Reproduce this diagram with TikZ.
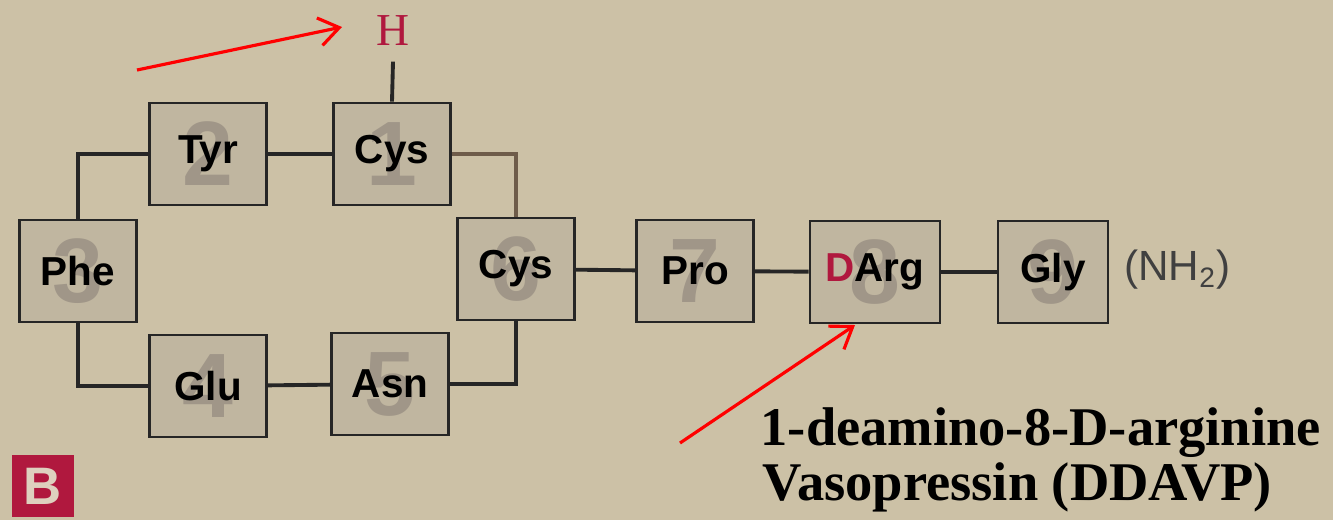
\documentclass[tikz,border=0pt]{standalone}
\usepackage{fontspec}
\setmainfont{Liberation Serif}
\setsansfont{Liberation Sans}
\usetikzlibrary{arrows.meta}
\definecolor{paper}{RGB}{204,193,166}
\definecolor{boxfill}{RGB}{192,182,160}
\definecolor{digitgray}{RGB}{160,150,136}
\definecolor{ssbrown}{RGB}{110,92,74}
\definecolor{crimson}{RGB}{176,24,62}
\definecolor{tagtext}{RGB}{222,208,190}

\begin{document}
\begin{tikzpicture}[x=0.01cm, y=-0.01cm,
    amino/.style={draw=black!85, line width=0.8pt, fill=boxfill,
      minimum width=1.17cm, minimum height=1.02cm,
      font=\sffamily\bfseries\fontsize{11.5}{13}\selectfont,
      path picture={\node[font=\sffamily\bfseries\fontsize{26}{26}\selectfont, text=digitgray]
        at (path picture bounding box.center) {#1};}},
    bond/.style={line width=1.1pt, draw=black!85},
    ssbond/.style={line width=1.1pt, draw=ssbrown},
    pointer/.style={red, line width=0.9pt, -{Straight Barb[length=2mm,width=2.8mm]}}]
  % paper
  \fill[paper] (0,0) rectangle (1333,520);
  \useasboundingbox (0,0) rectangle (1333,520);

  % amino acid boxes
  \node[amino=2] (tyr)  at (208,154) {Tyr};
  \node[amino=1] (cys1) at (392,154) {Cys};
  \node[amino=3] (phe)  at (78,271)  {Phe};
  \node[amino=6] (cys6) at (516,269) {Cys};
  \node[amino=4] (glu)  at (208,386) {Glu};
  \node[amino=5] (asn)  at (390,384) {Asn};
  \node[amino=7] (pro)  at (695,271) {Pro};
  \node[amino=8, minimum width=1.3cm] (darg) at (875,272) {\textcolor{crimson}{D}Arg};
  \node[amino=9, minimum width=1.1cm] (gly) at (1053,272) {Gly};
  \node[anchor=west, font=\sffamily\fontsize{12}{14}\selectfont, text=black!75] (nh2) at (1112,270) {(NH\textsubscript{2})};

  % deamino end
  \node[font=\fontsize{13}{15}\selectfont, text=crimson, inner sep=0.15cm] (h) at (393,31) {H};

  % chain
  \draw[bond] (h.south) -- (cys1.north);
  \draw[bond] (phe.north) |- (tyr.west);
  \draw[bond] (tyr) -- (cys1);
  \draw[ssbond] (cys1.east) -| (cys6.north);
  \draw[bond] (phe.south) |- (glu.west);
  \draw[bond] (glu) -- (asn);
  \draw[bond] (asn.east) -| (cys6.south);
  \draw[bond] (cys6) -- (pro);
  \draw[bond] (pro) -- (darg);
  \draw[bond] (darg) -- (gly);

  % red pointers
  \coordinate (p1) at (137,70);
  \coordinate (p1tip) at (342,27);
  \coordinate (p2) at (680,443);
  \coordinate (p2tip) at (855,325);
  \draw[pointer] (p1) -- (p1tip);
  \draw[pointer] (p2) -- (p2tip);

  % panel tag and caption
  \node[fill=crimson, text=tagtext, minimum width=0.57cm, minimum height=0.62cm,
    font=\sffamily\bfseries\fontsize{15}{15}\selectfont] (tag) at (43,486) {B};
  \node[anchor=base west, inner sep=0pt, font=\bfseries\fontsize{15.5}{17}\selectfont] (name1) at (760,445) {1-deamino-8-D-arginine};
  \node[anchor=base west, inner sep=0pt, font=\bfseries\fontsize{15.5}{17}\selectfont] (name2) at (762,500) {Vasopressin (DDAVP)};
\end{tikzpicture}
\end{document}
